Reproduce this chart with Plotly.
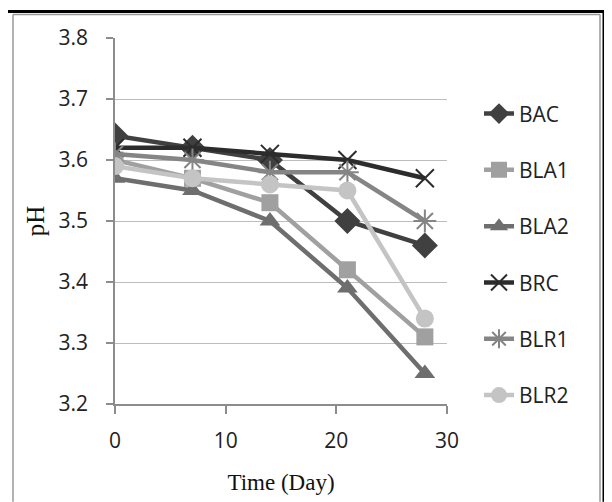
import plotly.graph_objects as go

days = [0, 7, 14, 21, 28]
series_names = ["BAC", "BLA1", "BLA2", "BRC", "BLR1", "BLR2"]
bac = [3.64, 3.62, 3.60, 3.50, 3.46]
bla1 = [3.60, 3.57, 3.53, 3.42, 3.31]
bla2 = [3.57, 3.55, 3.50, 3.39, 3.25]
brc = [3.62, 3.62, 3.61, 3.60, 3.57]
blr1 = [3.61, 3.60, 3.58, 3.58, 3.50]
blr2 = [3.59, 3.57, 3.56, 3.55, 3.34]
y_ticks = [3.2, 3.3, 3.4, 3.5, 3.6, 3.7, 3.8]
x_ticks = [0, 10, 20, 30]

values = [bac, bla1, bla2, brc, blr1, blr2]
colors = ["#404040", "#a0a0a0", "#6e6e6e", "#2c2c2c", "#858585", "#c4c4c4"]
symbols = ["diamond", "square", "triangle-up", "x-thin-open", "asterisk-open", "circle"]
sizes = [20, 17, 18, 18, 19, 18]

# page body has an 8px margin: work in reference pixels minus that offset
OFF = 8
W, H = 612 - OFF, 502 - OFF
L, T = 115 - OFF, 37.5 - OFF
PW = 447 - 115
PH = 404 - 37.5
R = W - L - PW
B = H - T - PH

def px(x):
    return (x - OFF - L) / PW

def py(y):
    return (H - B - (y - OFF)) / PH

fig = go.Figure()
for name, vals, c, s, sz in zip(series_names, values, colors, symbols, sizes):
    fig.add_trace(go.Scatter(
        x=days, y=vals, name=name, mode="lines+markers",
        line=dict(color=c, width=4.5),
        marker=dict(symbol=s, size=sz, color=c, line=dict(color=c, width=2 if "open" in s else 0)),
        legendgroup=name,
    ))

sans = "Open Sans, DejaVu Sans, sans-serif"
serif = "Liberation Serif, Times New Roman, serif"

fig.update_layout(
    width=W, height=H,
    margin=dict(l=L, r=R, t=T, b=B),
    paper_bgcolor="white", plot_bgcolor="white",
    showlegend=True,
    legend=dict(x=px(479), y=py(93), xanchor="left", yanchor="top",
                font=dict(family=sans, size=21, color="#222222"),
                tracegroupgap=26, bgcolor="rgba(0,0,0,0)"),
    xaxis=dict(range=[0, 30], tickvals=x_ticks, showgrid=False, zeroline=False,
               showline=True, linecolor="#8c8c8c", linewidth=1.5,
               ticks="outside", ticklen=8, tickcolor="#8c8c8c", tickwidth=1.5,
               ticklabelstandoff=9,
               tickfont=dict(family=sans, size=21, color="#222222"),
               title=dict(text="Time (Day)", font=dict(family=serif, size=23, color="#111111"), standoff=21)),
    yaxis=dict(range=[3.2, 3.8], tickvals=y_ticks, tickformat=".1f",
               showgrid=True, gridcolor="#bdbdbd", gridwidth=1.2, zeroline=False,
               showline=True, linecolor="#8c8c8c", linewidth=1.5,
               ticks="outside", ticklen=7, tickcolor="#8c8c8c", tickwidth=1.5,
               ticklabelstandoff=14,
               tickfont=dict(family=sans, size=21, color="#222222"),
               title=dict(text="pH", font=dict(family=serif, size=25, color="#111111"), standoff=7)),
)

# frames around the figure (outer black cell border, inner grey chart border)
frame = [
    (4, 11, 604, 11, "black", 3),
    (4, 11, 4, 502, "black", 3),
    (604, 11, 604, 502, "black", 3),
    (13, 14, 600, 14, "#999999", 1.5),
    (13, 14, 13, 502, "#999999", 1.5),
    (600, 14, 600, 502, "#999999", 1.5),
]
for x0, y0, x1, y1, c, w in frame:
    fig.add_shape(type="line", xref="paper", yref="paper",
                  x0=px(x0), y0=py(y0), x1=px(x1), y1=py(y1),
                  line=dict(color=c, width=w), layer="above")

fig.write_html("out.html")
